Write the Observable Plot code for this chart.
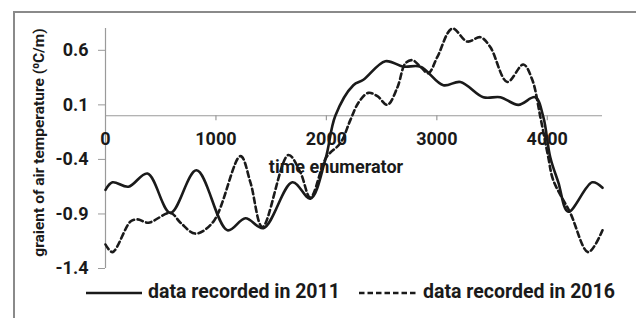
<!DOCTYPE html>
<html>
<head>
<meta charset="utf-8">
<script src="https://cdn.jsdelivr.net/npm/d3@7"></script>
<script src="https://cdn.jsdelivr.net/npm/@observablehq/plot@0.6"></script>
<style>
  html, body { margin: 0; padding: 0; background: #fff; }
  #wrap { position: relative; width: 636px; height: 318px; overflow: hidden; background: #fff;
          font-family: Roboto, "Liberation Sans", sans-serif; font-weight: bold; color: #1a1a1a; }
  #frame { position: absolute; left: 13px; top: 11px; width: 700px; height: 400px; border-left: 2px solid #8a8a8a; border-top: 2px solid #8a8a8a; }
  #chart { position: absolute; left: 0; top: 0; }
  .leg { position: absolute; top: 281px; font-size: 19.5px; line-height: 22px; white-space: nowrap; }
  .legsw { position: absolute; top: 283px; }
</style>
</head>
<body>
<div id="wrap">
  <div id="frame"></div>
  <div id="chart"></div>
</div>
<script>
// Series: time enumerator vs gradient of air temperature
const x2011 = [0, 63, 208, 380, 588, 824, 1104, 1267, 1430, 1692, 1855, 1991, 2081, 2244, 2335, 2534, 2697, 2851, 3059, 3213, 3421, 3575, 3738, 3891, 3964, 4027, 4100, 4190, 4407, 4500];
const y2011 = [-0.68, -0.61, -0.65, -0.53, -0.89, -0.50, -1.05, -0.94, -1.03, -0.61, -0.76, -0.40, 0.0, 0.28, 0.33, 0.50, 0.45, 0.45, 0.28, 0.31, 0.17, 0.17, 0.10, 0.17, -0.01, -0.38, -0.61, -0.88, -0.61, -0.66];
const x2016 = [0, 63, 226, 290, 389, 588, 679, 814, 977, 1222, 1312, 1421, 1656, 1765, 1855, 2000, 2127, 2217, 2290, 2380, 2462, 2552, 2643, 2715, 2778, 2851, 2923, 3005, 3140, 3276, 3394, 3484, 3638, 3783, 3864, 3937, 4009, 4054, 4208, 4371, 4500];
const y2016 = [-1.18, -1.25, -0.97, -0.95, -0.98, -0.89, -0.98, -1.08, -0.97, -0.37, -0.61, -1.02, -0.36, -0.52, -0.75, -0.38, -0.25, -0.04, 0.12, 0.21, 0.18, 0.10, 0.26, 0.48, 0.51, 0.45, 0.39, 0.54, 0.80, 0.68, 0.72, 0.63, 0.31, 0.47, 0.33, -0.01, -0.38, -0.59, -0.89, -1.25, -1.05];
const seriesNames = ["data recorded in 2011", "data recorded in 2016"];
const xTicks = [0, 1000, 2000, 3000, 4000];
const yTicks = [0.6, 0.1, -0.4, -0.9, -1.4];
const xLabel = "time enumerator";
const yLabel = "graient of air temperature (\u2070C/m)";

const d2011 = x2011.map((x, i) => ({x, y: y2011[i]}));
const d2016 = x2016.map((x, i) => ({x, y: y2016[i]}));

const font = 'Roboto, "Liberation Sans", sans-serif';
const ink = "#1a1a1a";
const axisGray = "#9a9a9a";

const chart = Plot.plot({
  width: 636,
  height: 280,
  marginLeft: 105,
  marginRight: 34,
  marginTop: 28,
  marginBottom: 12,
  style: {fontFamily: font, fontWeight: "bold", fontSize: "18px", color: ink, background: "transparent", overflow: "visible"},
  x: {domain: [0, 4500], axis: null},
  y: {domain: [-1.4, 0.8], axis: null},
  marks: [
    Plot.ruleY([0], {stroke: axisGray, strokeWidth: 1.2}),
    Plot.ruleX([0], {stroke: axisGray, strokeWidth: 1.2}),
    Plot.ruleX(xTicks.slice(1), {x: d => d, y1: 0, y2: 0, insetBottom: -5, stroke: axisGray, strokeWidth: 1.2}),
    Plot.axisY(yTicks, {tickSize: 7, tickPadding: 10, stroke: axisGray, fill: ink, fontSize: 18, fontWeight: "bold", tickFormat: d => d.toFixed(1), label: null}),
    Plot.text(xTicks, {x: d => d, y: 0, dy: 23, text: d => String(d), fill: ink, fontSize: 18, fontWeight: "bold"}),
    Plot.line(d2011, {x: "x", y: "y", curve: "catmull-rom", stroke: ink, strokeWidth: 2.6}),
    Plot.line(d2016, {x: "x", y: "y", curve: "catmull-rom", stroke: ink, strokeWidth: 2.6, strokeDasharray: "5.5,3.5"}),
    Plot.text([xLabel], {frameAnchor: "middle", dx: -18, dy: 19, fill: ink, fontSize: 18, fontWeight: "bold"}),
    Plot.text([yLabel], {frameAnchor: "left", textAnchor: "middle", rotate: -90, dx: -66, dy: -6, fill: ink, fontSize: 15.5, fontWeight: "bold"})
  ]
});
document.getElementById("chart").appendChild(chart);

// Legend (below the plot area)
const wrap = document.getElementById("wrap");
const legendItems = [
  {name: seriesNames[0], dash: null, x1: 86, x2: 142, tx: 148},
  {name: seriesNames[1], dash: "5.5,3", x1: 359, x2: 418, tx: 423}
];
legendItems.forEach(it => {
  const sw = document.createElementNS("http://www.w3.org/2000/svg", "svg");
  sw.setAttribute("class", "legsw");
  sw.setAttribute("width", it.x2 - it.x1);
  sw.setAttribute("height", 20);
  sw.style.left = it.x1 + "px";
  const ln = document.createElementNS("http://www.w3.org/2000/svg", "line");
  ln.setAttribute("x1", 0); ln.setAttribute("x2", it.x2 - it.x1);
  ln.setAttribute("y1", 10); ln.setAttribute("y2", 10);
  ln.setAttribute("stroke", ink); ln.setAttribute("stroke-width", 2.6);
  if (it.dash) ln.setAttribute("stroke-dasharray", it.dash);
  sw.appendChild(ln);
  wrap.appendChild(sw);
  const t = document.createElement("div");
  t.className = "leg";
  t.style.left = it.tx + "px";
  t.textContent = it.name;
  wrap.appendChild(t);
});
</script>
</body>
</html>
